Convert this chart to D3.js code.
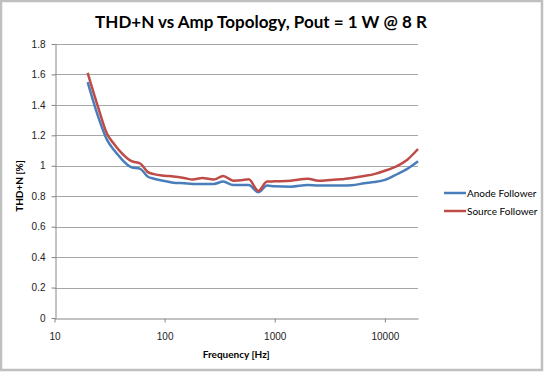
<!DOCTYPE html>
<html>
<head>
<meta charset="utf-8">
<script src="https://cdn.jsdelivr.net/npm/d3@7"></script>
<style>
  body { margin: 0; background: #fff; }
  svg { display: block; font-family: Lato, "Liberation Sans", sans-serif; }
</style>
</head>
<body>
<svg id="chart" width="544" height="373"></svg>
<script>
// frequency points (Hz)
const freqs = [20, 25, 30, 35, 40, 50, 60, 70, 80, 100, 120, 150, 180, 220, 280, 340, 420, 500, 580, 710, 850, 1000, 1400, 2000, 2500, 3000, 4000, 5000, 6500, 8000, 10000, 13000, 16000, 20000]
// THD+N (%)
const anodeFollower = [1.55, 1.32, 1.17, 1.10, 1.05, 0.99, 0.98, 0.93, 0.915, 0.90, 0.889, 0.885, 0.881, 0.881, 0.881, 0.896, 0.874, 0.874, 0.874, 0.826, 0.87, 0.865, 0.863, 0.874, 0.87, 0.87, 0.87, 0.872, 0.885, 0.893, 0.907, 0.946, 0.98, 1.03]
const sourceFollower = [1.61, 1.38, 1.21, 1.14, 1.09, 1.03, 1.015, 0.96, 0.945, 0.935, 0.93, 0.92, 0.91, 0.92, 0.91, 0.933, 0.902, 0.905, 0.911, 0.835, 0.896, 0.898, 0.902, 0.915, 0.902, 0.905, 0.911, 0.92, 0.933, 0.945, 0.967, 1.0, 1.04, 1.11]
const xTicks = [10, 100, 1000, 10000]
const yTicks = [0, 0.2, 0.4, 0.6, 0.8, 1, 1.2, 1.4, 1.6, 1.8]

const series = [
  { name: "Anode Follower", values: anodeFollower, color: "#4a7ebb" },
  { name: "Source Follower", values: sourceFollower, color: "#be4b48" }
]

const svg = d3.select("#chart")

// outer frame
svg.append("rect")
  .attr("x", 1).attr("y", 1)
  .attr("width", 541).attr("height", 369)
  .attr("fill", "#fff")
  .attr("stroke", "#bfbfbf")
  .attr("stroke-width", 2.5)

const xScale = d3.scaleLog().domain([10, 20000]).range([54.5, 418])
const yScale = d3.scaleLinear().domain([0, 1.8]).range([318, 44])

// grid
svg.append("g")
  .selectAll("line")
  .data(yTicks.filter(d => d > 0))
  .join("line")
  .attr("x1", xScale(10)).attr("x2", xScale(20000))
  .attr("y1", d => Math.round(yScale(d)) + 0.5)
  .attr("y2", d => Math.round(yScale(d)) + 0.5)
  .attr("stroke", "#a6a6a6")
  .attr("stroke-width", 1.2)

// y axis
const yAxis = svg.append("g")
  .attr("transform", `translate(${Math.round(xScale(10)) + 0.5},0)`)
  .call(d3.axisLeft(yScale).tickValues(yTicks).tickSize(4).tickSizeOuter(0).tickPadding(6).tickFormat(d3.format("~g")))
yAxis.select(".domain").attr("stroke", "#868686")
yAxis.selectAll(".tick line").attr("stroke", "#868686")
yAxis.selectAll("text").attr("fill", "#222").style("font-size", "10px").style("font-family", "inherit")

// x axis
const xAxis = svg.append("g")
  .attr("transform", `translate(0,${Math.round(yScale(0)) + 0.5})`)
  .call(d3.axisBottom(xScale).tickValues(xTicks).tickSize(4).tickSizeOuter(0).tickPadding(10).tickFormat(d3.format("d")))
xAxis.select(".domain").attr("stroke", "#868686")
xAxis.selectAll(".tick line").attr("stroke", "#868686")
xAxis.selectAll("text").attr("fill", "#222").style("font-size", "10px").style("font-family", "inherit")

// lines
const line = d3.line()
  .x((d, i) => xScale(freqs[i]))
  .y(d => yScale(d))
  .curve(d3.curveMonotoneX)

svg.append("g")
  .selectAll("path")
  .data(series)
  .join("path")
  .attr("fill", "none")
  .attr("stroke", d => d.color)
  .attr("stroke-width", 2.5)
  .attr("stroke-linejoin", "round")
  .attr("d", d => line(d.values))

// title
svg.append("text")
  .attr("x", 261).attr("y", 28)
  .attr("text-anchor", "middle")
  .style("font-size", "17px")
  .style("font-weight", "bold")
  .text("THD+N vs Amp Topology, Pout = 1 W @ 8 R")

// axis titles
svg.append("text")
  .attr("x", (xScale(10) + xScale(20000)) / 2).attr("y", 358)
  .attr("text-anchor", "middle")
  .style("font-size", "10px")
  .style("font-weight", "bold")
  .text("Frequency [Hz]")

svg.append("text")
  .attr("transform", "translate(23,186) rotate(-90)")
  .attr("text-anchor", "middle")
  .style("font-size", "10px")
  .style("font-weight", "bold")
  .text("THD+N [%]")

// legend
const legend = svg.append("g")
  .selectAll("g")
  .data(series)
  .join("g")
  .attr("transform", (d, i) => `translate(444,${193 + i * 18})`)

legend.append("line")
  .attr("x1", 0).attr("x2", 22)
  .attr("stroke", d => d.color)
  .attr("stroke-width", 2.5)

legend.append("text")
  .attr("x", 23).attr("y", 3.5)
  .style("font-size", "10px")
  .text(d => d.name)
</script>
</body>
</html>
